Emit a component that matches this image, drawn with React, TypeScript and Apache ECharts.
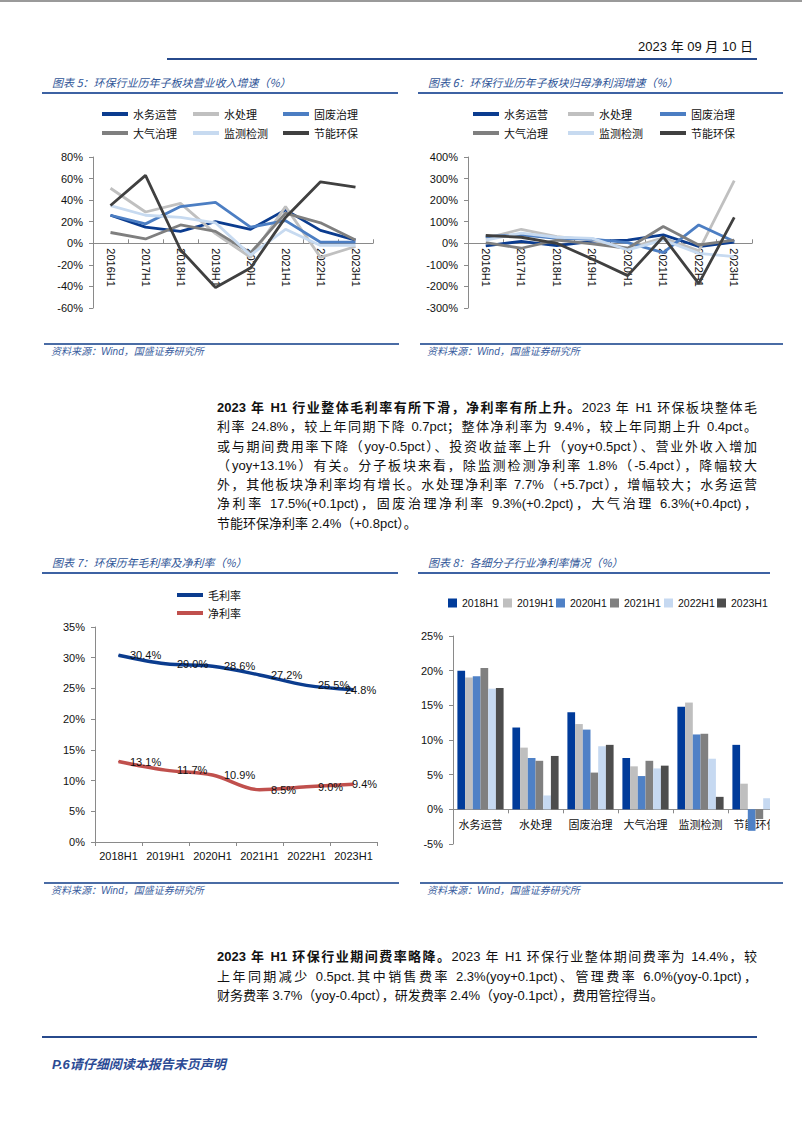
import React, { useEffect, useRef } from "react";
import * as echarts from "echarts";

// ---------- data ----------
const periods8 = ["2016H1", "2017H1", "2018H1", "2019H1", "2020H1", "2021H1", "2022H1", "2023H1"];
const segNames = ["水务运营", "水处理", "固废治理", "大气治理", "监测检测", "节能环保"];
const segColors = ["#0B3C8F", "#C0C0C0", "#4C7EC3", "#7F7F7F", "#C7DAF0", "#404040"];

// chart 5: revenue growth (%)
const revWater = [26, 15, 11, 20, 13, 31, 12, 3];
const revTreat = [51, 29, 37, 9, -13, 34, -13, -3];
const revSolid = [26, 18, 34, 38, 15, 21, 1, 1];
const revAir = [10, 4, 17, 11, -9, 28, 19, 3];
const revMonitor = [35, 26, 24, 19, -11, 13, -2, -2];
const revEnergy = [35, 63, -6, -41, -23, 24, 57, 52];

// chart 6: net profit growth (%)
const npWater = [-12, 9, -11, 9, 15, 39, -15, 5];
const npTreat = [23, 65, 31, 15, -23, 25, -35, 290];
const npSolid = [31, 39, 23, 19, 3, -43, 85, 8];
const npAir = [3, -23, 15, -3, -23, 78, -8, 15];
const npMonitor = [15, 47, 28, 23, -31, 15, -47, -62];
const npEnergy = [36, 28, 0, -73, -150, 30, -187, 120];

// chart 7
const years6 = ["2018H1", "2019H1", "2020H1", "2021H1", "2022H1", "2023H1"];
const grossMargin = [30.4, 29.0, 28.6, 27.2, 25.5, 24.8];
const netMargin = [13.1, 11.7, 10.9, 8.5, 9.0, 9.4];

// chart 8
const yearNames8 = ["2018H1", "2019H1", "2020H1", "2021H1", "2022H1", "2023H1"];
const yearColors8 = ["#003B9A", "#BFBFBF", "#4F81C6", "#808080", "#C6D9F1", "#4D4D4D"];
const nm2018 = [20.0, 11.8, 14.0, 7.4, 14.8, 9.3];
const nm2019 = [19.0, 8.9, 12.3, 6.2, 15.4, 3.7];
const nm2020 = [19.2, 7.4, 11.5, 4.8, 10.8, -3.1];
const nm2021 = [20.4, 7.0, 5.3, 7.0, 10.9, -1.4];
const nm2022 = [17.4, 2.0, 9.1, 5.9, 7.3, 1.6];
const nm2023 = [17.5, 7.7, 9.3, 6.3, 1.8, 2.4];

// ---------- styles ----------
const NUM_FONT = "Liberation Sans, Noto Sans CJK SC, sans-serif";
const CJK_FONT = "Noto Sans CJK SC, sans-serif";
const AXIS_COLOR = "#8A8A8A";
const BLUE = "#2F5597";

const yLabel = { formatter: "{value}%", color: "#111", fontFamily: NUM_FONT, fontSize: 11, margin: 10 };

function lineLegends(names: string[], xs: number[], ys: number[]) {
  return names.map((n, i) => ({
    data: [n],
    left: xs[i % 3],
    top: ys[Math.floor(i / 3)],
    padding: 0,
    icon: "rect",
    itemWidth: 26,
    itemHeight: 4,
    itemGap: 4,
    selectedMode: false,
    textStyle: { fontFamily: CJK_FONT, fontSize: 11, color: "#111", lineHeight: 14 },
  }));
}

function growthOption(
  seriesData: number[][],
  min: number,
  max: number,
  interval: number,
  grid: any,
  legendXs: number[]
) {
  // place the category axis (line, ticks and labels) on the zero value
  const zeroOffset = -(grid.height * (0 - min)) / (max - min);
  return {
    animation: false,
    legend: lineLegends(segNames, legendXs, [7, 26]),
    grid: { ...grid, outerBoundsMode: "none", containLabel: false },
    xAxis: {
      type: "category",
      data: periods8,
      boundaryGap: true,
      offset: zeroOffset,
      axisLine: { show: true, onZero: false, lineStyle: { color: AXIS_COLOR, width: 1 } },
      axisTick: { show: true, inside: true, length: 4, lineStyle: { color: AXIS_COLOR } },
      axisLabel: { rotate: -90, margin: 5, interval: 0, color: "#111", fontFamily: NUM_FONT, fontSize: 11 },
    },
    yAxis: {
      type: "value",
      min,
      max,
      interval,
      axisLine: { show: true, lineStyle: { color: AXIS_COLOR } },
      axisTick: { show: true, length: 4, lineStyle: { color: AXIS_COLOR } },
      splitLine: { show: false },
      axisLabel: yLabel,
    },
    series: seriesData.map((d, i) => ({
      type: "line",
      name: segNames[i],
      data: d,
      symbol: "none",
      lineStyle: { width: 2.8, color: segColors[i] },
      itemStyle: { color: segColors[i] },
    })),
  };
}

const option5 = growthOption(
  [revWater, revTreat, revSolid, revAir, revMonitor, revEnergy],
  -60,
  80,
  20,
  { left: 51, right: 25, top: 57, height: 151 },
  [60, 151, 241]
);

const option6 = growthOption(
  [npWater, npTreat, npSolid, npAir, npMonitor, npEnergy],
  -300,
  400,
  100,
  { left: 50, right: 31, top: 57, height: 151 },
  [55, 150, 242]
);

const marginLabel = (offsetLast: number) => (v: number, i: number, arr: number[]) =>
  i === arr.length - 1 ? { value: v, label: { offset: [offsetLast, 0] } } : v;

const option7 = {
  animation: false,
  legend: [
    { name: "毛利率", top: 8 },
    { name: "净利率", top: 26 },
  ].map((l) => ({
    data: [l.name],
    left: 135,
    top: l.top,
    padding: 0,
    icon: "rect",
    itemWidth: 26,
    itemHeight: 4,
    itemGap: 4,
    selectedMode: false,
    textStyle: { fontFamily: CJK_FONT, fontSize: 11, color: "#111", lineHeight: 14 },
  })),
  grid: { left: 53, right: 21, top: 47, height: 215, outerBoundsMode: "none", containLabel: false },
  xAxis: {
    type: "category",
    data: years6,
    boundaryGap: true,
    axisLine: { show: true, lineStyle: { color: AXIS_COLOR, width: 1 } },
    axisTick: { show: true, length: 4, lineStyle: { color: AXIS_COLOR } },
    axisLabel: { color: "#111", fontFamily: NUM_FONT, fontSize: 11, margin: 8, interval: 0 },
  },
  yAxis: {
    type: "value",
    min: 0,
    max: 35,
    interval: 5,
    axisLine: { show: true, lineStyle: { color: AXIS_COLOR } },
    axisTick: { show: true, length: 4, lineStyle: { color: AXIS_COLOR } },
    splitLine: { show: false },
    axisLabel: yLabel,
  },
  series: [
    { name: "毛利率", data: grossMargin.map(marginLabel(-20)), color: "#0B3C8E" },
    { name: "净利率", data: netMargin.map(marginLabel(-13)), color: "#C0504D" },
  ].map((s) => ({
    type: "line",
    name: s.name,
    data: s.data,
    smooth: 0.35,
    symbol: "circle",
    symbolSize: 1,
    showSymbol: true,
    lineStyle: { width: 3.5, color: s.color },
    itemStyle: { color: s.color },
    label: {
      show: true,
      position: "right",
      distance: 11,
      formatter: (p: any) => p.value.toFixed(1) + "%",
      color: "#111",
      fontFamily: NUM_FONT,
      fontSize: 11,
    },
  })),
};

const nmSeries = [nm2018, nm2019, nm2020, nm2021, nm2022, nm2023];
const legend8X = [30, 85, 138, 192, 246, 299];
const grid8 = { left: 35, right: 15, top: 56, height: 208 };
const y8Min = -5;
const y8Max = 25;

const option8 = {
  animation: false,
  legend: yearNames8.map((n, i) => ({
    data: [n],
    left: legend8X[i],
    top: 17,
    padding: 0,
    icon: "rect",
    itemWidth: 9,
    itemHeight: 9,
    itemGap: 2,
    selectedMode: false,
    textStyle: { fontFamily: NUM_FONT, fontSize: 10.5, color: "#111", lineHeight: 12 },
  })),
  grid: { ...grid8, outerBoundsMode: "none", containLabel: false },
  xAxis: {
    type: "category",
    data: segNames,
    offset: -(grid8.height * (0 - y8Min)) / (y8Max - y8Min),
    axisLine: { show: true, onZero: false, lineStyle: { color: AXIS_COLOR, width: 1 } },
    axisTick: { show: true, length: 4, lineStyle: { color: AXIS_COLOR } },
    axisLabel: { color: "#111", fontFamily: CJK_FONT, fontSize: 11, margin: 9, interval: 0 },
  },
  yAxis: {
    type: "value",
    min: y8Min,
    max: y8Max,
    interval: 5,
    axisLine: { show: true, lineStyle: { color: AXIS_COLOR } },
    axisTick: { show: true, length: 4, lineStyle: { color: AXIS_COLOR } },
    splitLine: { show: false },
    axisLabel: yLabel,
  },
  series: nmSeries.map((d, i) => ({
    type: "bar",
    name: yearNames8[i],
    data: d,
    barGap: "0%",
    barCategoryGap: "16%",
    itemStyle: { color: yearColors8[i] },
  })),
};

// ---------- components ----------
function EChart({ option, width, height }: { option: any; width: number; height: number }) {
  const ref = useRef<HTMLDivElement>(null);
  useEffect(() => {
    if (!ref.current) return;
    const chart = echarts.init(ref.current, undefined, { renderer: "svg" });
    chart.setOption(option);
    return () => chart.dispose();
  }, [option]);
  return <div ref={ref} style={{ width, height }} />;
}

const abs = (left: number, top: number, extra: React.CSSProperties = {}): React.CSSProperties => ({
  position: "absolute",
  left,
  top,
  ...extra,
});

function Title({ x, y, text, lineW }: { x: number; y: number; text: string; lineW: number }) {
  return (
    <>
      <div
        style={abs(x + 10, y - 8, {
          fontFamily: CJK_FONT,
          fontSize: 11,
          fontStyle: "italic",
          color: BLUE,
          whiteSpace: "nowrap",
          lineHeight: "16px",
        })}
      >
        {text}
      </div>
      <div style={abs(x, y + 10, { width: lineW, height: 2, background: "#3D62A3" })} />
    </>
  );
}

function Source({ x, y, lineW }: { x: number; y: number; lineW: number }) {
  return (
    <>
      <div style={abs(x, y, { width: lineW, height: 2, background: "#4A6CA5" })} />
      <div
        style={abs(x + 7, y + 1, {
          fontFamily: "Liberation Sans, Noto Sans CJK SC, sans-serif",
          fontSize: 10,
          fontStyle: "italic",
          color: "#3B5E9E",
          whiteSpace: "nowrap",
          lineHeight: "16px",
        })}
      >
        资料来源：Wind，国盛证券研究所
      </div>
    </>
  );
}

const bodyFont = "Liberation Sans, Noto Sans CJK SC, sans-serif";

function Para({ top, lines, lh }: { top: number; lines: React.ReactNode[]; lh: number }) {
  return (
    <div style={abs(217, top, { width: 540, fontFamily: bodyFont, fontSize: 13, color: "#111" })}>
      {lines.map((l, i) => (
        <div
          key={i}
          style={{
            height: lh,
            lineHeight: lh + "px",
            whiteSpace: "nowrap",
            textAlign: i === lines.length - 1 ? "left" : "justify",
            textAlignLast: i === lines.length - 1 ? "left" : "justify",
          }}
        >
          {l}
        </div>
      ))}
    </div>
  );
}

export default function App() {
  useEffect(() => {
    document.body.style.margin = "0";
  }, []);
  return (
    <div style={{ position: "absolute", left: 0, top: 0, width: 802, height: 1133, background: "#fff", overflow: "hidden" }}>
      {/* header */}
      <div style={abs(0, 0, { width: 802, height: 2, background: "#9A9A9A" })} />
      <div
        style={abs(560, 38, {
          width: 193,
          textAlign: "right",
          fontFamily: bodyFont,
          fontSize: 13,
          color: "#111",
          lineHeight: "18px",
          whiteSpace: "nowrap",
        })}
      >
        2023 年 09 月 10 日
      </div>
      <div style={abs(167, 58, { width: 590, height: 2, background: "#274A8C" })} />

      {/* chart titles top row */}
      <Title x={42} y={82} text="图表 5：环保行业历年子板块营业收入增速（%）" lineW={356} />
      <Title x={418} y={82} text="图表 6：环保行业历年子板块归母净利润增速（%）" lineW={365} />

      <div style={abs(42, 100)}>
        <EChart option={option5} width={356} height={230} />
      </div>
      <div style={abs(418, 100)}>
        <EChart option={option6} width={365} height={230} />
      </div>

      <Source x={44} y={343} lineW={355} />
      <Source x={420} y={343} lineW={363} />

      <Para
        top={398}
        lh={19.3}
        lines={[
          <>
            <b>2023 年 H1 行业整体毛利率有所下滑，净利率有所上升。</b>2023 年 H1 环保板块整体毛
          </>,
          "利率 24.8%，较上年同期下降 0.7pct；整体净利率为 9.4%，较上年同期上升 0.4pct。",
          "或与期间费用率下降（yoy-0.5pct）、投资收益率上升（yoy+0.5pct）、营业外收入增加",
          "（yoy+13.1%）有关。分子板块来看，除监测检测净利率 1.8%（-5.4pct），降幅较大",
          "外，其他板块净利率均有增长。水处理净利率 7.7%（+5.7pct），增幅较大；水务运营",
          "净利率 17.5%(+0.1pct)，固废治理净利率 9.3%(+0.2pct)，大气治理 6.3%(+0.4pct)，",
          "节能环保净利率 2.4%（+0.8pct）。",
        ]}
      />

      {/* chart titles bottom row */}
      <Title x={42} y={562} text="图表 7：环保历年毛利率及净利率（%）" lineW={356} />
      <Title x={418} y={562} text="图表 8：各细分子行业净利率情况（%）" lineW={352} />

      <div style={abs(42, 580)}>
        <EChart option={option7} width={356} height={290} />
      </div>
      <div style={abs(418, 580, { width: 352, height: 290, overflow: "hidden" })}>
        <EChart option={option8} width={380} height={290} />
      </div>

      <Source x={44} y={882} lineW={355} />
      <Source x={420} y={882} lineW={363} />

      <Para
        top={947}
        lh={19.7}
        lines={[
          <>
            <b>2023 年 H1 环保行业期间费率略降。</b>2023 年 H1 环保行业整体期间费率为 14.4%，较
          </>,
          "上年同期减少 0.5pct.其中销售费率 2.3%(yoy+0.1pct)、管理费率 6.0%(yoy-0.1pct)，",
          "财务费率 3.7%（yoy-0.4pct），研发费率 2.4%（yoy-0.1pct），费用管控得当。",
        ]}
      />

      {/* footer */}
      <div style={abs(42, 1036, { width: 715, height: 2, background: "#274A8C" })} />
      <div
        style={abs(52, 1055, {
          fontFamily: bodyFont,
          fontSize: 13,
          fontWeight: "bold",
          fontStyle: "italic",
          color: "#2B4A94",
          whiteSpace: "nowrap",
          lineHeight: "20px",
        })}
      >
        P.6请仔细阅读本报告末页声明
      </div>
    </div>
  );
}
